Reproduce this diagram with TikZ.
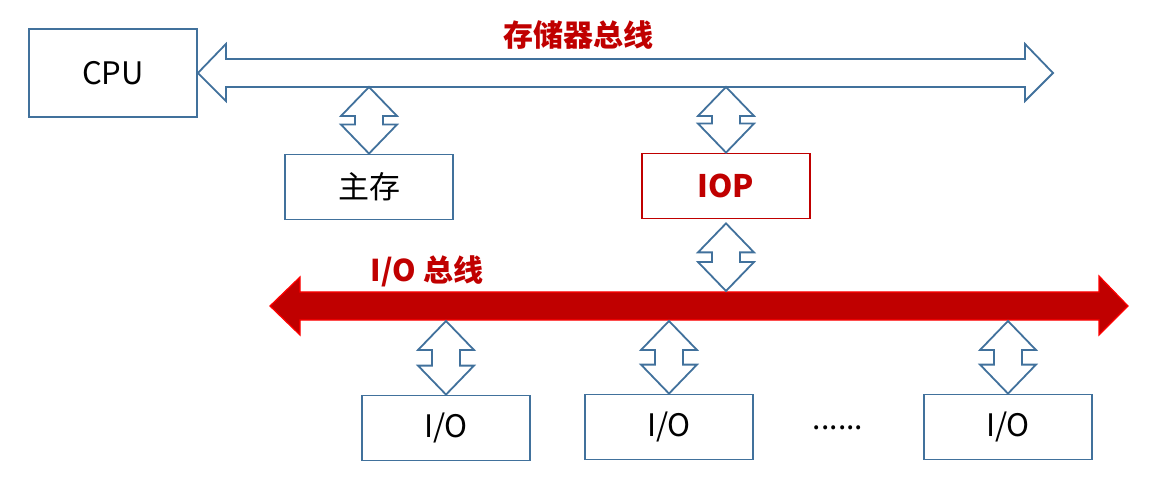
\documentclass[tikz,border=0pt]{standalone}
\usepackage{fontspec}
\setmainfont{Noto Sans CJK SC}
\usetikzlibrary{calc}
\definecolor{bblue}{HTML}{41719C}
\definecolor{dred}{HTML}{C00000}
\definecolor{bred}{HTML}{FF0000}
\tikzset{
  box/.style={draw=bblue, line width=1.8pt, fill=white, minimum width=168pt, minimum height=65pt, inner sep=0pt, font=\fontsize{31}{34}\selectfont},
  conn/.style={draw=bblue, line width=1.8pt, fill=white, line join=miter},
  rbus/.style={draw=bred, line width=1.2pt, fill=dred, line join=miter},
  rlabel/.style={text=dred, font=\fontsize{30}{34}\selectfont\bfseries, inner sep=0pt}
}
\newcommand\vdarrow[2]{%
  \draw[conn] let \p1=(#1), \p2=(#2) in
   (\x1,\y1) -- (\x1+28pt,\y1-29pt) -- (\x1+14pt,\y1-29pt) -- (\x1+14pt,\y2+29pt)
   -- (\x1+28pt,\y2+29pt) -- (\x1,\y2) -- (\x1-28pt,\y2+29pt) -- (\x1-14pt,\y2+29pt)
   -- (\x1-14pt,\y1-29pt) -- (\x1-28pt,\y1-29pt) -- cycle;}
\begin{document}
\begin{tikzpicture}[x=1pt,y=-1pt]
\useasboundingbox (0,0) rectangle (1175,478);
% nodes
\node[box, minimum height=88pt] (cpu) at (113,73) {CPU};
\node[box] (mem) at (369,187) {主存};
\node[box, draw=dred, text=dred, font=\fontsize{31}{34}\selectfont\bfseries] (iop) at (726,186) {IOP};
\node[box] (io1) at (446,428) {I/O};
\node[box] (io2) at (669,427) {I/O};
\node[box] (io3) at (1008,427) {I/O};
\node[font=\fontsize{30}{34}\selectfont, inner sep=0pt] (dots) at (838,428) {......};
% reference coordinates
\coordinate (mbR) at (1053,73);
\coordinate (mbB) at (0,87);
\coordinate (iobL) at (270,306);
\coordinate (iobR) at (1128,306);
\coordinate (iobT) at (0,291);
\coordinate (iobB) at (0,321);
% memory bus
\draw[conn] let \p1=(cpu.east), \p2=(mbR) in
  (\x1,\y1) -- (\x1+28pt,\y1+29pt) -- (\x1+28pt,\y1+14pt) -- (\x2-28pt,\y1+14pt)
  -- (\x2-28pt,\y1+29pt) -- (\x2,\y1) -- (\x2-28pt,\y1-28pt) -- (\x2-28pt,\y1-14pt)
  -- (\x1+28pt,\y1-14pt) -- (\x1+28pt,\y1-28pt) -- cycle;
\node[rlabel] (mblabel) at (578,35) {存储器总线};
% I/O bus
\draw[rbus] let \p1=(iobL), \p2=(iobR) in
  (\x1,\y1) -- (\x1+30pt,\y1+29pt) -- (\x1+30pt,\y1+14pt) -- (\x2-29pt,\y1+14pt)
  -- (\x2-29pt,\y1+30pt) -- (\x2,\y1) -- (\x2-29pt,\y1-29pt) -- (\x2-29pt,\y1-14pt)
  -- (\x1+30pt,\y1-14pt) -- (\x1+30pt,\y1-29pt) -- cycle;
\node[rlabel] (ioblabel) at (427,271) {I/O 总线};
% vertical double arrows
\vdarrow{mem.north |- mbB}{mem.north}
\vdarrow{iop.north |- mbB}{iop.north}
\vdarrow{$(iop.south)+(0,4)$}{iop.south |- iobT}
\vdarrow{io1.north |- iobB}{io1.north}
\vdarrow{io2.north |- iobB}{io2.north}
\vdarrow{io3.north |- iobB}{io3.north}
\end{tikzpicture}
\end{document}
